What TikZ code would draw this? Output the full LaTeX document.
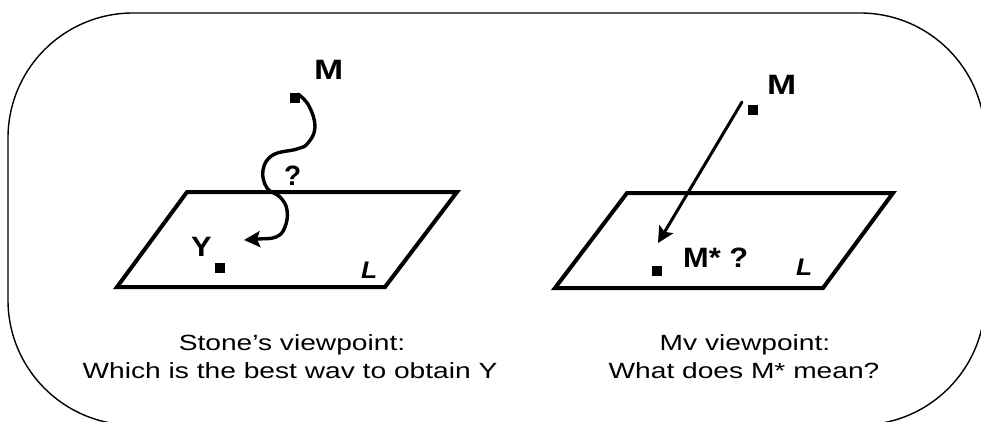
\documentclass[tikz,border=0pt]{standalone}
\usepackage{fontspec}
\setmainfont{Liberation Sans}
\usetikzlibrary{arrows.meta}
\begin{document}
\begin{tikzpicture}[x=1pt,y=-1pt,
  plane/.style={line width=4pt, line join=miter},
  sq/.style={fill=black, minimum size=10pt, inner sep=0pt, outer sep=0pt},
  lbl/.style={font=\fontsize{28}{30}\selectfont\bfseries, inner sep=0pt, anchor=base west},
  ital/.style={font=\fontsize{24}{26}\selectfont\bfseries\itshape, inner sep=0pt, anchor=base west},
  capt/.style={font=\fontsize{22}{26}\selectfont, inner sep=0pt, anchor=base},
  conn/.style={line width=3.4pt, line cap=round, -{Stealth[length=16pt,width=16pt,inset=3pt]}}
]
\useasboundingbox (0,0) rectangle (981,422);
\begin{scope}
  \clip (0,0) rectangle (981,422);
  \draw[line width=1.4pt, rounded corners=125pt] (8,13) rectangle (985,425);
\end{scope}

% left panel
\draw[plane] (187,192) -- (457,192) -- (385,287) -- (117,287) -- cycle;
\node[sq] (M1sq) at (295,98) {};
\node[sq] (Ysq) at (220,268) {};
\node[lbl] (M1) at (314,80) {\scalebox{1.25}[1]{M}};
\node[lbl] (Q1) at (284,185) {?};
\node[lbl] (Y) at (191,256) {\scalebox{1.1}[1]{Y}};
\node[ital] (L1) at (361,278) {\scalebox{1.1}[1]{L}};
\coordinate (w0) at (298,94);
\coordinate (w1) at (244,240);
\draw[conn] plot[smooth, tension=0.7] coordinates {(w0) (309,106) (315,127) (308,143) (297,149) (273,155) (263,170) (267,188) (280,197) (287,210) (285,227) (276,237) (258,239) (w1)};

% right panel
\draw[plane] (627,193) -- (893,193) -- (823,288) -- (555,288) -- cycle;
\node[sq] (M2sq) at (753,110) {};
\node[sq] (Msq) at (657,271) {};
\node[lbl] (M2) at (767,95) {\scalebox{1.25}[1]{M}};
\node[lbl] (Mstar) at (683,267) {\scalebox{1.1}[1]{M* ?}};
\node[ital] (L2) at (796,275) {\scalebox{1.1}[1]{L}};
\coordinate (a0) at (742,102);
\coordinate (a1) at (658,243);
\draw[conn, line width=3pt] (a0) -- (a1);

% captions
\node[capt] (c1) at (292,350) {\scalebox{1.28}[1]{Stone’s viewpoint:}};
\node[capt] (c2) at (290,378) {\scalebox{1.28}[1]{Which is the best wav to obtain Y}};
\node[capt] (c3) at (745,350) {\scalebox{1.28}[1]{Mv viewpoint:}};
\node[capt] (c4) at (744,378) {\scalebox{1.28}[1]{What does M* mean?}};
\end{tikzpicture}
\end{document}
